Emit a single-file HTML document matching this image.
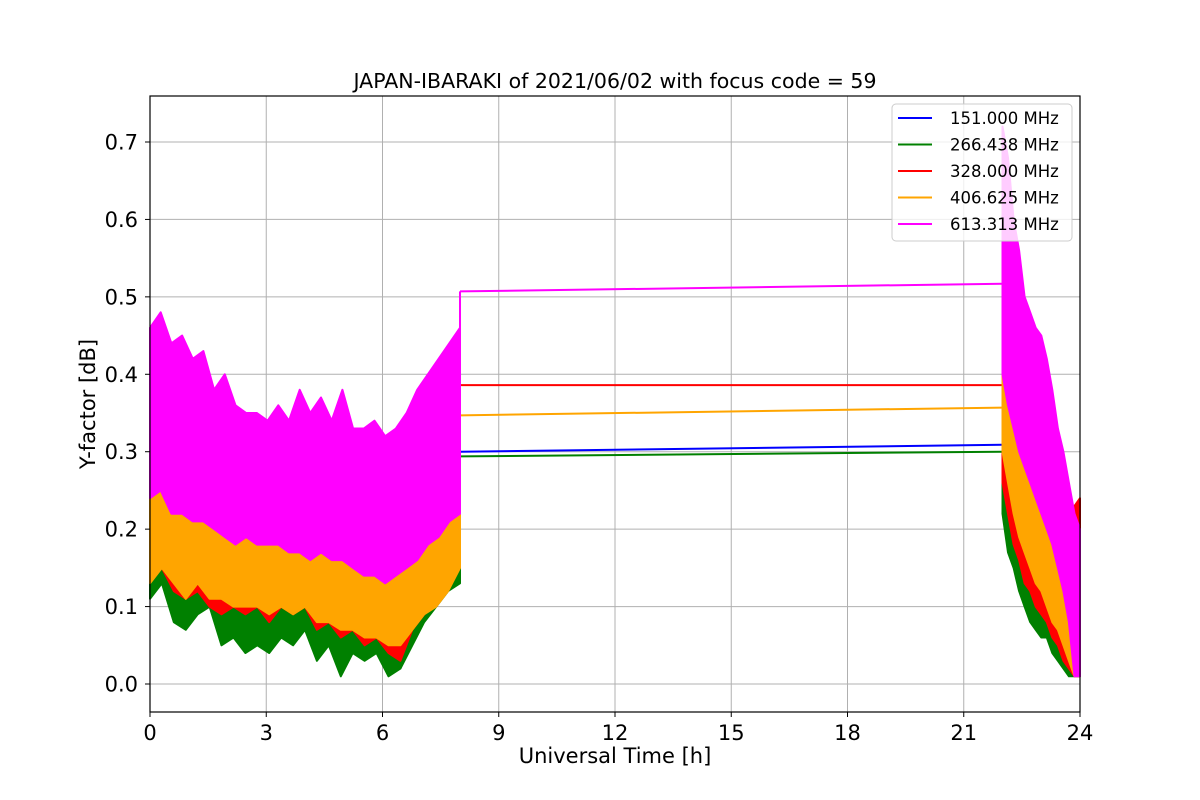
<!DOCTYPE html>
<html><head><meta charset="utf-8"><style>
html,body{margin:0;padding:0;background:#fff;}
svg{display:block;font-family:"DejaVu Sans","Liberation Sans",sans-serif;}
</style></head><body>
<svg id="chart" width="1200" height="800" viewBox="0 0 1200 800">
<text x="615" y="88" text-anchor="middle" font-size="20.5">JAPAN-IBARAKI of 2021/06/02 with focus code = 59</text>
<g id="grid"></g>
<g id="series"></g>
<rect x="150" y="96" width="930" height="616" fill="none" stroke="#000" stroke-width="1.2"/>
<g id="ticks"></g>
<text x="615" y="763" text-anchor="middle" font-size="21">Universal Time [h]</text>
<text transform="translate(95,404) rotate(-90)" text-anchor="middle" font-size="21">Y-factor [dB]</text>
<g id="legend"></g>
</svg>
<script>
const xTicks=[0,3,6,9,12,15,18,21,24];
const yTicks=[0.0,0.1,0.2,0.3,0.4,0.5,0.6,0.7];
const seriesNames=["151.000 MHz","266.438 MHz","328.000 MHz","406.625 MHz","613.313 MHz"];
const seriesColors=["blue","green","red","orange","magenta"];
const seg1Start=0, seg1End=8, seg2Start=22, seg2End=24;
// segment 1 (0-8h): alternating upper/lower envelope samples, evenly spaced in time
const blue1=[0.22,0.12,0.26,0.14,0.24,0.09,0.25,0.11,0.22,0.10,0.24,0.12,0.21,0.08,0.22,0.10,0.20,0.09,0.23,0.08,0.21,0.07,0.22,0.09,0.20,0.08,0.23,0.09,0.20,0.06,0.21,0.08,0.19,0.05,0.20,0.07,0.18,0.04,0.20,0.06,0.21,0.03,0.19,0.02,0.21,0.07,0.22,0.09,0.24,0.10,0.25,0.13,0.26,0.14];
const green1=[0.21,0.11,0.25,0.13,0.23,0.08,0.24,0.07,0.21,0.09,0.23,0.10,0.20,0.05,0.21,0.06,0.19,0.04,0.22,0.05,0.20,0.04,0.21,0.06,0.19,0.05,0.22,0.07,0.19,0.03,0.20,0.05,0.18,0.01,0.19,0.04,0.17,0.03,0.19,0.04,0.20,0.01,0.18,0.02,0.20,0.05,0.21,0.08,0.23,0.10,0.24,0.12,0.25,0.13];
const red1=[0.27,0.14,0.29,0.15,0.28,0.12,0.27,0.11,0.26,0.12,0.27,0.10,0.24,0.09,0.25,0.10,0.23,0.09,0.25,0.10,0.22,0.08,0.24,0.10,0.23,0.09,0.26,0.10,0.22,0.07,0.23,0.08,0.21,0.06,0.22,0.07,0.20,0.05,0.22,0.06,0.23,0.04,0.21,0.03,0.23,0.07,0.25,0.09,0.27,0.11,0.28,0.14,0.29,0.15];
const orange1=[0.30,0.13,0.29,0.15,0.32,0.13,0.28,0.11,0.29,0.13,0.27,0.11,0.26,0.11,0.26,0.10,0.25,0.10,0.27,0.10,0.25,0.09,0.26,0.10,0.24,0.09,0.28,0.10,0.24,0.08,0.25,0.08,0.24,0.07,0.24,0.07,0.23,0.06,0.24,0.06,0.25,0.05,0.23,0.05,0.24,0.07,0.26,0.09,0.27,0.10,0.29,0.12,0.30,0.15];
const magenta1=[0.46,0.24,0.48,0.25,0.44,0.22,0.45,0.22,0.42,0.21,0.43,0.21,0.38,0.20,0.40,0.19,0.36,0.18,0.35,0.19,0.35,0.18,0.34,0.18,0.36,0.18,0.34,0.17,0.38,0.17,0.35,0.16,0.37,0.17,0.34,0.16,0.38,0.16,0.33,0.15,0.33,0.14,0.34,0.14,0.32,0.13,0.33,0.14,0.35,0.15,0.38,0.16,0.40,0.18,0.42,0.19,0.44,0.21,0.46,0.22];
// flat connection values at 8h and 22h
const flatAt8=[0.300,0.294,0.386,0.347,0.507];
const flatAt22=[0.309,0.300,0.386,0.357,0.517];
// segment 2 (22-24h): alternating upper/lower
const blue2=[0.45,0.24,0.38,0.20,0.35,0.17,0.31,0.15,0.28,0.12,0.26,0.11,0.24,0.09,0.22,0.07,0.20,0.08,0.18,0.06,0.21,0.05,0.15,0.03,0.12,0.02,0.20,0.01,0.22,0.01];
const green2=[0.30,0.22,0.33,0.17,0.31,0.15,0.28,0.12,0.26,0.10,0.24,0.08,0.22,0.07,0.20,0.06,0.18,0.06,0.16,0.04,0.18,0.03,0.14,0.02,0.11,0.01,0.18,0.01,0.20,0.01];
const red2=[0.48,0.26,0.40,0.22,0.37,0.18,0.33,0.16,0.30,0.13,0.28,0.12,0.26,0.10,0.24,0.09,0.22,0.08,0.19,0.06,0.20,0.05,0.16,0.03,0.13,0.02,0.23,0.01,0.24,0.02];
const orange2=[0.47,0.30,0.43,0.26,0.40,0.22,0.36,0.19,0.34,0.17,0.32,0.15,0.30,0.13,0.28,0.12,0.26,0.10,0.23,0.08,0.20,0.07,0.17,0.05,0.13,0.03,0.10,0.01,0.08,0.01];
const magenta2=[0.72,0.40,0.68,0.36,0.60,0.33,0.56,0.30,0.50,0.28,0.48,0.26,0.46,0.24,0.45,0.22,0.42,0.20,0.38,0.18,0.33,0.15,0.30,0.12,0.26,0.08,0.22,0.01,0.20,0.01];

const X0=150,X1=1080,Y0=684,Y07=142;
function xs(t){return X0+(t-0)/(24-0)*(X1-X0);}
function ys(v){return Y0+(v-0)/(0.7-0)*(Y07-Y0);}
const NS="http://www.w3.org/2000/svg";
function el(tag,attrs,parent){const e=document.createElementNS(NS,tag);for(const k in attrs)e.setAttribute(k,attrs[k]);parent.appendChild(e);return e;}
const grid=document.getElementById('grid'),ticks=document.getElementById('ticks');
xTicks.forEach(t=>{
  const g=el('line',{x1:xs(t),x2:xs(t),y1:96,y2:712,stroke:'#b0b0b0','stroke-width':1},grid);
  
  
  const tk=el('line',{x1:xs(t),x2:xs(t),y1:712,y2:717,stroke:'#000'},ticks);
  
  
  const tx=el('text',{x:xs(t),y:740,'text-anchor':'middle','font-size':21},ticks);
  tx.textContent=String(t);
  
  
});
yTicks.forEach(v=>{
  const g=el('line',{x1:150,x2:1080,y1:ys(v),y2:ys(v),stroke:'#b0b0b0','stroke-width':1},grid);
  
  
  const tk=el('line',{x1:145,x2:150,y1:ys(v),y2:ys(v),stroke:'#000'},ticks);
  
  
  const tx=el('text',{x:138,y:ys(v)+7.5,'text-anchor':'end','font-size':21},ticks);
  tx.textContent=v.toFixed(1);
  
  
});
const seg1=[blue1,green1,red1,orange1,magenta1];
const seg2=[blue2,green2,red2,orange2,magenta2];
const sg=document.getElementById('series');
function band(arr,t0,t1){
  const up=arr.filter((v,i)=>i%2===0), lo=arr.filter((v,i)=>i%2===1);
  const n=Math.min(up.length,lo.length);
  const top=[],bot=[];
  for(let i=0;i<n;i++){const t=t0+i*(t1-t0)/(n-1);top.push([xs(t),ys(up[i])]);bot.push([xs(t),ys(lo[i])]);}
  const pts=top.concat(bot.reverse());
  return pts.map((p,i)=>(i?'L':'M')+p[0].toFixed(1)+' '+p[1].toFixed(1)).join(' ')+' Z';
}
for(let s=0;s<5;s++){
  const c=seriesColors[s];
  const f=el('path',{d:'M'+xs(seg1End)+' '+ys(flatAt8[s])+' L'+xs(seg2Start)+' '+ys(flatAt22[s]),fill:'none',stroke:c,'stroke-width':2},sg);
  
  
  const b1=el('path',{d:band(seg1[s],seg1Start,seg1End),fill:c,stroke:c,'stroke-width':2,'stroke-linejoin':'round'},sg);
  
  
  const b2=el('path',{d:band(seg2[s],seg2Start,seg2End),fill:c,stroke:c,'stroke-width':2,'stroke-linejoin':'round'},sg);
  
  
  const j=el('path',{d:'M'+xs(seg1End)+' '+ys(seg1[s][seg1[s].length-2])+' L'+xs(seg1End)+' '+ys(flatAt8[s])+' M'+xs(seg2Start)+' '+ys(flatAt22[s])+' L'+xs(seg2Start)+' '+ys(seg2[s][0]),fill:'none',stroke:c,'stroke-width':2},sg);
  
  
}
const lg=document.getElementById('legend');
const box=el('rect',{x:892,y:104,width:180,height:137,rx:4,fill:'#fff','fill-opacity':0.8,stroke:'#ccc'},lg);


seriesNames.forEach((n,i)=>{
  const y=118+i*26.5;
  const l=el('line',{x1:898,x2:932,y1:y,y2:y,stroke:seriesColors[i],'stroke-width':2},lg);
  
  
  const t=el('text',{x:950,y:y+6,'font-size':16.5},lg);
  t.textContent=n;
  
  
});
</script>
</body></html>
